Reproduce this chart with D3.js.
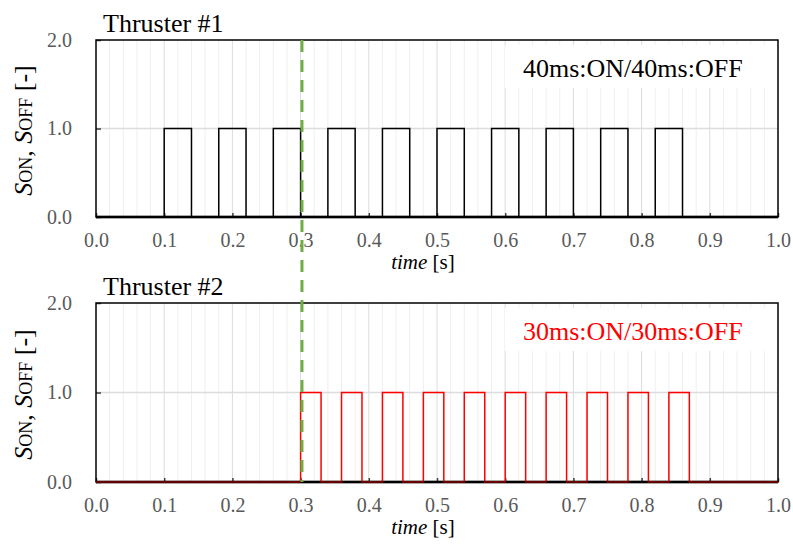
<!DOCTYPE html>
<html>
<head>
<meta charset="utf-8">
<script src="https://cdn.jsdelivr.net/npm/d3@7"></script>
<style>
  body { margin: 0; background: #fff; }
  svg { display: block; }
  text { font-family: "Liberation Serif", "Times New Roman", "DejaVu Serif", serif; }
</style>
</head>
<body>
<svg id="chart" width="793" height="551"></svg>
<script>
// Axis ticks
const xTickValues = [0.0, 0.1, 0.2, 0.3, 0.4, 0.5, 0.6, 0.7, 0.8, 0.9, 1.0];
const xTickLabels = ["0.0", "0.1", "0.2", "0.3", "0.4", "0.5", "0.6", "0.7", "0.8", "0.9", "1.0"];
const yTickValues = [0.0, 1.0, 2.0];
const yTickLabels = ["0.0", "1.0", "2.0"];

// Switching signal of each thruster: pulse rising and falling times [s]
const thruster1On  = [0.10, 0.18, 0.26, 0.34, 0.42, 0.50, 0.58, 0.66, 0.74, 0.82];
const thruster1Off = [0.14, 0.22, 0.30, 0.38, 0.46, 0.54, 0.62, 0.70, 0.78, 0.86];
const thruster2On  = [0.30, 0.36, 0.42, 0.48, 0.54, 0.60, 0.66, 0.72, 0.78, 0.84];
const thruster2Off = [0.33, 0.39, 0.45, 0.51, 0.57, 0.63, 0.69, 0.75, 0.81, 0.87];

// Moment thruster #2 starts firing [s]
const switchTime = 0.302;

const timeDomain = [0.0, 1.0];
const stateDomain = [0.0, 2.0];

const SERIF = '"Liberation Serif", "Times New Roman", "DejaVu Serif", serif';

const svg = d3.select("#chart");
const left = 96, right = 778;
const x = d3.scaleLinear().domain(timeDomain).range([left, right]);

// Build the ON/OFF step trace from the pulse edges
function stepPoints(onTimes, offTimes) {
  const pts = [[timeDomain[0], 0]];
  onTimes.forEach((t, i) => {
    pts.push([t, 0], [t, 1], [offTimes[i], 1], [offTimes[i], 0]);
  });
  pts.push([timeDomain[1], 0]);
  return pts;
}

function drawPanel(top, bottom, cfg) {
  const y = d3.scaleLinear().domain(stateDomain).range([bottom, top]);
  const g = svg.append("g").attr("font-family", SERIF);

  // minor vertical gridlines every 0.02 s
  const minor = x.ticks(50).filter(v => Math.abs(v * 10 - Math.round(v * 10)) > 1e-6);
  g.append("g").selectAll("line").data(minor).join("line")
    .attr("x1", d => x(d)).attr("x2", d => x(d))
    .attr("y1", top).attr("y2", bottom)
    .attr("stroke", "#efefef").attr("stroke-width", 1);

  // major vertical gridlines
  g.append("g").selectAll("line").data(xTickValues.slice(1, -1)).join("line")
    .attr("x1", d => x(d)).attr("x2", d => x(d))
    .attr("y1", top).attr("y2", bottom)
    .attr("stroke", "#dcdcdc").attr("stroke-width", 1);

  // horizontal gridline
  g.append("g").selectAll("line").data(yTickValues.slice(1, -1)).join("line")
    .attr("x1", left).attr("x2", right)
    .attr("y1", d => y(d)).attr("y2", d => y(d))
    .attr("stroke", "#dcdcdc").attr("stroke-width", 1.5);

  // white box behind the pulse-pattern label
  g.append("rect")
    .attr("x", 505).attr("y", top + 5)
    .attr("width", right - 505 - 2).attr("height", 43)
    .attr("fill", "#fff");

  // x axis: inward ticks and labels
  const xAxis = d3.axisBottom(x)
    .tickValues(xTickValues)
    .tickFormat((d, i) => xTickLabels[i])
    .tickSize(-4).tickPadding(16);
  const gx = g.append("g").attr("transform", `translate(0,${bottom})`).call(xAxis)
    .attr("font-family", SERIF);
  gx.select(".domain").remove();
  gx.selectAll("line").attr("stroke", "#404040").attr("stroke-width", 1.5);
  gx.selectAll("text").attr("fill", "#595959").attr("font-size", 20);

  // y axis
  const yAxis = d3.axisLeft(y)
    .tickValues(yTickValues)
    .tickFormat((d, i) => yTickLabels[i])
    .tickSize(-5).tickPadding(24);
  const gy = g.append("g").attr("transform", `translate(${left},0)`).call(yAxis)
    .attr("font-family", SERIF);
  gy.select(".domain").remove();
  gy.selectAll("line").attr("stroke", "#404040").attr("stroke-width", 1.5);
  gy.selectAll("text").attr("fill", "#595959").attr("font-size", 20);

  // plot frame
  g.append("rect")
    .attr("x", left).attr("y", top)
    .attr("width", right - left).attr("height", bottom - top)
    .attr("fill", "none").attr("stroke", "#000").attr("stroke-width", 1.5);
  g.append("line")
    .attr("x1", left).attr("x2", right).attr("y1", bottom).attr("y2", bottom)
    .attr("stroke", "#000").attr("stroke-width", 2.5);

  // switching trace
  const line = d3.line().x(d => x(d[0])).y(d => y(d[1]));
  g.append("path")
    .datum(stepPoints(cfg.on, cfg.off))
    .attr("d", line)
    .attr("fill", "none")
    .attr("stroke", cfg.color)
    .attr("stroke-width", 1.5);

  // darken the part of the trace lying on the axis line
  g.append("line")
    .attr("x1", left).attr("x2", right).attr("y1", bottom).attr("y2", bottom)
    .attr("stroke", "#000").attr("stroke-opacity", 0.45).attr("stroke-width", 2.5);

  // panel title
  g.append("text")
    .attr("x", 103).attr("y", top - 8)
    .attr("font-size", 26).attr("fill", "#000")
    .text(cfg.title);

  // pulse pattern label
  g.append("text")
    .attr("x", 523).attr("y", top + 37)
    .attr("font-size", 26).attr("fill", cfg.labelColor)
    .text(cfg.label);

  // x axis title
  const xt = g.append("text")
    .attr("x", 423).attr("y", bottom + 52)
    .attr("text-anchor", "middle").attr("font-size", 21).attr("fill", "#000");
  xt.append("tspan").attr("font-style", "italic").text("time");
  xt.append("tspan").text(" [s]");

  // y axis title
  const yc = (top + bottom) / 2 + 2;
  const yt = g.append("text")
    .attr("transform", `translate(32,${yc}) rotate(-90)`)
    .attr("text-anchor", "middle").attr("font-size", 26).attr("fill", "#000");
  yt.append("tspan").attr("font-style", "italic").text("S");
  yt.append("tspan").attr("font-size", 18).text("ON");
  yt.append("tspan").text(", ");
  yt.append("tspan").attr("font-style", "italic").text("S");
  yt.append("tspan").attr("font-size", 18).text("OFF");
  yt.append("tspan").text(" [-]");
}

drawPanel(40, 217, {
  title: "Thruster #1", label: "40ms:ON/40ms:OFF", labelColor: "#000",
  color: "#000", on: thruster1On, off: thruster1Off
});
drawPanel(303, 482, {
  title: "Thruster #2", label: "30ms:ON/30ms:OFF", labelColor: "#ff0000",
  color: "#ff0000", on: thruster2On, off: thruster2Off
});

// dashed marker at the moment thruster #2 starts firing
svg.append("line")
  .attr("x1", x(switchTime)).attr("x2", x(switchTime))
  .attr("y1", 40).attr("y2", 482)
  .attr("stroke", "#70ad47").attr("stroke-width", 3)
  .attr("stroke-dasharray", "12,8");
</script>
</body>
</html>
